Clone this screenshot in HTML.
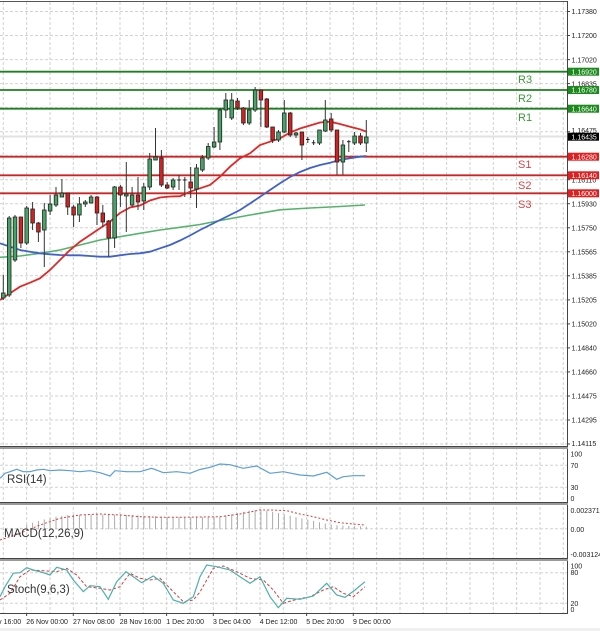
<!DOCTYPE html>
<html><head><meta charset="utf-8"><style>
html,body{margin:0;padding:0;background:#fff;}
svg{display:block;}
text{font-family:"Liberation Sans",sans-serif;}
</style></head><body>
<svg width="600" height="631" viewBox="0 0 600 631" xmlns="http://www.w3.org/2000/svg">
<rect x="0" y="0" width="600" height="631" fill="#fff"/>
<rect x="0" y="628" width="600" height="3" fill="#f0f0f0"/>

<!-- vertical grid -->
<g stroke="#d2d2d2" stroke-width="1" stroke-dasharray="3,2">
<line x1="3.3" y1="2" x2="3.3" y2="613"/><line x1="26.6" y1="2" x2="26.6" y2="613"/><line x1="50" y1="2" x2="50" y2="613"/><line x1="73.3" y1="2" x2="73.3" y2="613"/><line x1="96.6" y1="2" x2="96.6" y2="613"/><line x1="120" y1="2" x2="120" y2="613"/><line x1="143.3" y1="2" x2="143.3" y2="613"/><line x1="166.6" y1="2" x2="166.6" y2="613"/><line x1="190" y1="2" x2="190" y2="613"/><line x1="213.3" y1="2" x2="213.3" y2="613"/><line x1="236.6" y1="2" x2="236.6" y2="613"/><line x1="260" y1="2" x2="260" y2="613"/><line x1="283.3" y1="2" x2="283.3" y2="613"/><line x1="306.6" y1="2" x2="306.6" y2="613"/><line x1="330" y1="2" x2="330" y2="613"/><line x1="353.3" y1="2" x2="353.3" y2="613"/><line x1="376.6" y1="2" x2="376.6" y2="613"/><line x1="400" y1="2" x2="400" y2="613"/><line x1="423.3" y1="2" x2="423.3" y2="613"/><line x1="446.6" y1="2" x2="446.6" y2="613"/><line x1="470" y1="2" x2="470" y2="613"/><line x1="493.3" y1="2" x2="493.3" y2="613"/><line x1="516.6" y1="2" x2="516.6" y2="613"/><line x1="540" y1="2" x2="540" y2="613"/><line x1="563.3" y1="2" x2="563.3" y2="613"/>
</g>
<!-- horizontal grid main -->
<g stroke="#d2d2d2" stroke-width="1" stroke-dasharray="3,2">
<line x1="0" y1="11.5" x2="567" y2="11.5"/><line x1="0" y1="35.5" x2="567" y2="35.5"/><line x1="0" y1="59.6" x2="567" y2="59.6"/><line x1="0" y1="83.6" x2="567" y2="83.6"/><line x1="0" y1="107.6" x2="567" y2="107.6"/><line x1="0" y1="131.7" x2="567" y2="131.7"/><line x1="0" y1="155.7" x2="567" y2="155.7"/><line x1="0" y1="179.7" x2="567" y2="179.7"/><line x1="0" y1="203.7" x2="567" y2="203.7"/><line x1="0" y1="227.8" x2="567" y2="227.8"/><line x1="0" y1="251.8" x2="567" y2="251.8"/><line x1="0" y1="275.8" x2="567" y2="275.8"/><line x1="0" y1="299.9" x2="567" y2="299.9"/><line x1="0" y1="323.9" x2="567" y2="323.9"/><line x1="0" y1="347.9" x2="567" y2="347.9"/><line x1="0" y1="371.9" x2="567" y2="371.9"/><line x1="0" y1="396" x2="567" y2="396"/><line x1="0" y1="420" x2="567" y2="420"/><line x1="0" y1="444" x2="567" y2="444"/>
<!-- sub panels -->
<line x1="0" y1="465.3" x2="567" y2="465.3"/><line x1="0" y1="487.3" x2="567" y2="487.3"/>
<line x1="0" y1="528.8" x2="567" y2="528.8"/>
<line x1="0" y1="572.7" x2="567" y2="572.7"/><line x1="0" y1="603.3" x2="567" y2="603.3"/>
</g>

<!-- current price line -->
<line x1="0" y1="136.5" x2="567" y2="136.5" stroke="#e2e2e2" stroke-width="2"/>

<!-- R/S lines -->
<g stroke-width="1.8">
<line x1="0" y1="71.7" x2="567" y2="71.7" stroke="#1f7f1f"/>
<line x1="0" y1="90" x2="567" y2="90" stroke="#1f7f1f"/>
<line x1="0" y1="108.7" x2="567" y2="108.7" stroke="#1f7f1f"/>
<line x1="0" y1="156.7" x2="567" y2="156.7" stroke="#cf2222"/>
<line x1="0" y1="175.3" x2="567" y2="175.3" stroke="#cf2222"/>
<line x1="0" y1="193.3" x2="567" y2="193.3" stroke="#cf2222"/>
</g>
<g font-size="11">
<text x="518" y="83" fill="#3d963d">R3</text>
<text x="518" y="102" fill="#3d963d">R2</text>
<text x="518" y="121" fill="#3d963d">R1</text>
<text x="518" y="168" fill="#d84444">S1</text>
<text x="518" y="189" fill="#d84444">S2</text>
<text x="518" y="208" fill="#d84444">S3</text>
</g>

<!-- moving averages -->
<polyline fill="none" stroke="#56b36e" stroke-width="1.6" points="0,257.3 20,256 40,253.3 60,250 80,245 100,240 120,236.7 140,233.3 160,230 180,227.3 200,224.5 220,220.5 250,215 280,209.8 310,208 340,206.5 365,205"/>
<polyline fill="none" stroke="#4062c8" stroke-width="1.8" points="0,243.3 10,246.7 20,250 30,251.7 40,253.3 50,254.3 60,255 70,255.3 80,255.3 90,256 100,256.7 110,256.7 120,255.3 130,254 140,253.3 150,251.7 160,248.3 170,245 180,240.5 190,235.5 200,230 210,225 220,220 230,215 240,210 250,203.5 260,196.7 270,190 280,183.3 290,177 300,172 310,168 320,165 330,162.7 340,160 350,158.3 360,156.7 366,156"/>
<polyline fill="none" stroke="#e02828" stroke-width="1.8" points="0,300 10,293.3 20,286.7 30,282.7 40,278.3 50,270 60,260 70,250 80,241.7 90,235 100,228.3 110,221.7 120,213 130,207.5 140,205.5 150,200.5 160,197.5 170,196.5 180,196.2 190,191.7 200,188.3 210,185 220,176.7 230,166.7 240,158.3 250,153.3 260,145 270,141.7 280,138.3 290,132.5 300,128.5 310,125.5 320,122.5 330,121.7 340,124 350,126.7 360,129.3 366,131.5"/>

<!-- candles -->
<g stroke="#333" stroke-width="1">
<line x1="3.3" y1="275" x2="3.3" y2="300"/><line x1="9.2" y1="216" x2="9.2" y2="297"/><line x1="15" y1="215" x2="15" y2="262"/><line x1="20.9" y1="217" x2="20.9" y2="248"/><line x1="26.7" y1="206" x2="26.7" y2="245"/><line x1="32.6" y1="202" x2="32.6" y2="230"/><line x1="38.4" y1="222" x2="38.4" y2="242"/><line x1="44.3" y1="203" x2="44.3" y2="267"/><line x1="50.1" y1="195" x2="50.1" y2="215"/><line x1="56" y1="187" x2="56" y2="207"/><line x1="61.9" y1="179" x2="61.9" y2="197"/><line x1="67.7" y1="193" x2="67.7" y2="215"/><line x1="73.6" y1="205" x2="73.6" y2="227"/><line x1="79.4" y1="197" x2="79.4" y2="222"/><line x1="85.3" y1="200" x2="85.3" y2="207"/><line x1="91.1" y1="195" x2="91.1" y2="203"/><line x1="97" y1="196" x2="97" y2="225"/><line x1="102.8" y1="205" x2="102.8" y2="227"/><line x1="108.7" y1="220" x2="108.7" y2="257"/><line x1="114.6" y1="186" x2="114.6" y2="248"/><line x1="120.4" y1="185" x2="120.4" y2="207"/><line x1="126.3" y1="162" x2="126.3" y2="232"/><line x1="132.1" y1="187" x2="132.1" y2="207"/><line x1="138" y1="177" x2="138" y2="210"/><line x1="143.8" y1="183" x2="143.8" y2="210"/><line x1="149.7" y1="153" x2="149.7" y2="190"/><line x1="155.5" y1="128" x2="155.5" y2="160"/><line x1="161.4" y1="150" x2="161.4" y2="187"/><line x1="167.2" y1="182" x2="167.2" y2="189"/><line x1="173.1" y1="178" x2="173.1" y2="190"/><line x1="179" y1="175" x2="179" y2="190"/><line x1="184.8" y1="177" x2="184.8" y2="197"/><line x1="190.7" y1="167" x2="190.7" y2="198"/><line x1="196.5" y1="164" x2="196.5" y2="208"/><line x1="202.4" y1="155" x2="202.4" y2="172"/><line x1="208.2" y1="143" x2="208.2" y2="160"/><line x1="214.1" y1="127" x2="214.1" y2="148"/><line x1="219.9" y1="108" x2="219.9" y2="150"/><line x1="225.8" y1="93" x2="225.8" y2="118"/><line x1="231.7" y1="93" x2="231.7" y2="120"/><line x1="237.5" y1="98" x2="237.5" y2="110"/><line x1="243.4" y1="107" x2="243.4" y2="125"/><line x1="249.2" y1="100" x2="249.2" y2="125"/><line x1="255.1" y1="87" x2="255.1" y2="112"/><line x1="260.9" y1="90" x2="260.9" y2="127"/><line x1="266.8" y1="98" x2="266.8" y2="128"/><line x1="272.6" y1="127" x2="272.6" y2="143"/><line x1="278.5" y1="130" x2="278.5" y2="142"/><line x1="284.3" y1="100" x2="284.3" y2="133"/><line x1="290.2" y1="112" x2="290.2" y2="137"/><line x1="296" y1="132" x2="296" y2="138"/><line x1="301.9" y1="132" x2="301.9" y2="160"/><line x1="307.8" y1="137" x2="307.8" y2="143"/><line x1="313.6" y1="140" x2="313.6" y2="145"/><line x1="319.5" y1="130" x2="319.5" y2="145"/><line x1="325.3" y1="100" x2="325.3" y2="132"/><line x1="331.2" y1="113" x2="331.2" y2="132"/><line x1="337" y1="130" x2="337" y2="175"/><line x1="342.9" y1="140" x2="342.9" y2="175"/><line x1="348.8" y1="140" x2="348.8" y2="152"/><line x1="354.6" y1="132" x2="354.6" y2="145"/><line x1="360.5" y1="133" x2="360.5" y2="145"/><line x1="366.3" y1="120" x2="366.3" y2="152"/>
</g>
<g stroke="#222" stroke-width="0.8">
<g fill="#46a566">
<rect x="1.5" y="293" width="3.6" height="5"/><rect x="7.4" y="218" width="3.6" height="77"/><rect x="13.2" y="217" width="3.6" height="43"/><rect x="24.9" y="208" width="3.6" height="35"/><rect x="42.5" y="210" width="3.6" height="20"/><rect x="48.3" y="204" width="3.6" height="7"/><rect x="54.2" y="195" width="3.6" height="10"/><rect x="60.1" y="193" width="3.6" height="4"/><rect x="77.6" y="204" width="3.6" height="11"/><rect x="83.5" y="202" width="3.6" height="2"/><rect x="89.3" y="197" width="3.6" height="6"/><rect x="112.8" y="187" width="3.6" height="51"/><rect x="124.5" y="194" width="3.6" height="2"/><rect x="130.3" y="195" width="3.6" height="10"/><rect x="142" y="187" width="3.6" height="14"/><rect x="147.9" y="159" width="3.6" height="28"/><rect x="153.7" y="157" width="3.6" height="3"/><rect x="171.3" y="180" width="3.6" height="7"/><rect x="194.7" y="168" width="3.6" height="21"/><rect x="200.6" y="158" width="3.6" height="12"/><rect x="206.4" y="146.5" width="3.6" height="11.5"/><rect x="212.3" y="142" width="3.6" height="5"/><rect x="218.1" y="110" width="3.6" height="32"/><rect x="224" y="100" width="3.6" height="10"/><rect x="229.9" y="100" width="3.6" height="18"/><rect x="247.4" y="110" width="3.6" height="13"/><rect x="253.3" y="90" width="3.6" height="20"/><rect x="276.7" y="132" width="3.6" height="8"/><rect x="282.5" y="113" width="3.6" height="19"/><rect x="294.2" y="133" width="3.6" height="2"/><rect x="317.7" y="130" width="3.6" height="13"/><rect x="323.5" y="120" width="3.6" height="11"/><rect x="341.1" y="145" width="3.6" height="17"/><rect x="352.8" y="136" width="3.6" height="7"/><rect x="364.5" y="137" width="3.6" height="6"/>
</g>
<g fill="#d42020">
<rect x="19.1" y="217" width="3.6" height="26"/><rect x="30.8" y="209" width="3.6" height="14"/><rect x="36.6" y="223" width="3.6" height="9"/><rect x="65.9" y="193" width="3.6" height="14"/><rect x="71.8" y="207" width="3.6" height="8"/><rect x="95.2" y="197" width="3.6" height="16"/><rect x="101" y="213" width="3.6" height="9"/><rect x="106.9" y="221" width="3.6" height="17"/><rect x="118.6" y="187" width="3.6" height="8"/><rect x="136.2" y="195" width="3.6" height="7"/><rect x="159.6" y="158" width="3.6" height="27"/><rect x="165.4" y="185" width="3.6" height="3"/><rect x="188.9" y="182" width="3.6" height="6"/><rect x="235.7" y="101" width="3.6" height="7"/><rect x="241.6" y="108" width="3.6" height="15"/><rect x="259.1" y="90" width="3.6" height="10"/><rect x="265" y="99" width="3.6" height="28"/><rect x="270.8" y="127" width="3.6" height="13"/><rect x="288.4" y="113" width="3.6" height="22"/><rect x="300.1" y="132" width="3.6" height="13"/><rect x="329.4" y="119" width="3.6" height="11"/><rect x="335.2" y="130" width="3.6" height="32"/><rect x="358.7" y="136" width="3.6" height="7"/>
</g>
</g>
<g stroke="#222" stroke-width="1">
<line x1="177.2" y1="180" x2="180.8" y2="180"/><line x1="183" y1="180" x2="186.6" y2="180"/><line x1="306" y1="139.5" x2="309.6" y2="139.5"/><line x1="311.8" y1="142.8" x2="315.4" y2="142.8"/><line x1="347" y1="141.7" x2="350.6" y2="141.7"/>
</g>

<!-- RSI -->
<polyline fill="none" stroke="#5c9fd2" stroke-width="1.2" points="0,478.3 5,473.3 10,471.7 16.7,469.3 23.3,471.7 30,471.7 36.7,470 43.3,469.3 50,470.7 60,470 70,470.7 80,471.7 90,470.7 100,472.7 110,476 115,470.7 126.7,471.7 140,471.7 151.7,468.3 163.3,472.7 176.7,471.7 190,473.3 200,469.5 210,467.3 220,464 230,464.7 243.3,468.3 256.7,466 270,473.3 283.3,471.7 300,475 313.3,476 326.7,472.3 336.7,479.3 343.3,476.7 353.3,475.7 365,475.7"/>
<text x="7" y="483" font-size="11.5" fill="#333">RSI(14)</text>

<!-- MACD histogram -->
<g stroke="#ababab" stroke-width="1">
<line x1="3.3" y1="529.3" x2="3.3" y2="530"/><line x1="9.2" y1="529.3" x2="9.2" y2="529.2"/><line x1="15" y1="529.3" x2="15" y2="528.6"/><line x1="20.9" y1="529.3" x2="20.9" y2="527.8"/><line x1="26.7" y1="529.3" x2="26.7" y2="525"/><line x1="32.6" y1="529.3" x2="32.6" y2="522.7"/><line x1="38.4" y1="529.3" x2="38.4" y2="520.9"/><line x1="44.3" y1="529.3" x2="44.3" y2="519.4"/><line x1="50.1" y1="529.3" x2="50.1" y2="518"/><line x1="56" y1="529.3" x2="56" y2="516.8"/><line x1="61.9" y1="529.3" x2="61.9" y2="515.9"/><line x1="67.7" y1="529.3" x2="67.7" y2="515"/><line x1="73.6" y1="529.3" x2="73.6" y2="514.9"/><line x1="79.4" y1="529.3" x2="79.4" y2="514.8"/><line x1="85.3" y1="529.3" x2="85.3" y2="514.7"/><line x1="91.1" y1="529.3" x2="91.1" y2="514.6"/><line x1="97" y1="529.3" x2="97" y2="514.5"/><line x1="102.8" y1="529.3" x2="102.8" y2="514.5"/><line x1="108.7" y1="529.3" x2="108.7" y2="514.6"/><line x1="114.6" y1="529.3" x2="114.6" y2="514.7"/><line x1="120.4" y1="529.3" x2="120.4" y2="514.8"/><line x1="126.3" y1="529.3" x2="126.3" y2="514.9"/><line x1="132.1" y1="529.3" x2="132.1" y2="515"/><line x1="138" y1="529.3" x2="138" y2="515.3"/><line x1="143.8" y1="529.3" x2="143.8" y2="515.6"/><line x1="149.7" y1="529.3" x2="149.7" y2="516"/><line x1="155.5" y1="529.3" x2="155.5" y2="516.3"/><line x1="161.4" y1="529.3" x2="161.4" y2="516.7"/><line x1="167.2" y1="529.3" x2="167.2" y2="517"/><line x1="173.1" y1="529.3" x2="173.1" y2="517.1"/><line x1="179" y1="529.3" x2="179" y2="517.1"/><line x1="184.8" y1="529.3" x2="184.8" y2="517.2"/><line x1="190.7" y1="529.3" x2="190.7" y2="517.2"/><line x1="196.5" y1="529.3" x2="196.5" y2="517.3"/><line x1="202.4" y1="529.3" x2="202.4" y2="517.2"/><line x1="208.2" y1="529.3" x2="208.2" y2="517"/><line x1="214.1" y1="529.3" x2="214.1" y2="516.8"/><line x1="219.9" y1="529.3" x2="219.9" y2="516.5"/><line x1="225.8" y1="529.3" x2="225.8" y2="515.4"/><line x1="231.7" y1="529.3" x2="231.7" y2="514.3"/><line x1="237.5" y1="529.3" x2="237.5" y2="513"/><line x1="243.4" y1="529.3" x2="243.4" y2="511.8"/><line x1="249.2" y1="529.3" x2="249.2" y2="510.6"/><line x1="255.1" y1="529.3" x2="255.1" y2="510.2"/><line x1="260.9" y1="529.3" x2="260.9" y2="510.1"/><line x1="266.8" y1="529.3" x2="266.8" y2="510.7"/><line x1="272.6" y1="529.3" x2="272.6" y2="511.8"/><line x1="278.5" y1="529.3" x2="278.5" y2="513"/><line x1="284.3" y1="529.3" x2="284.3" y2="514.3"/><line x1="290.2" y1="529.3" x2="290.2" y2="515.7"/><line x1="296" y1="529.3" x2="296" y2="517.1"/><line x1="301.9" y1="529.3" x2="301.9" y2="518.4"/><line x1="307.8" y1="529.3" x2="307.8" y2="519.6"/><line x1="313.6" y1="529.3" x2="313.6" y2="520.9"/><line x1="319.5" y1="529.3" x2="319.5" y2="522.2"/><line x1="325.3" y1="529.3" x2="325.3" y2="523.5"/><line x1="331.2" y1="529.3" x2="331.2" y2="524.6"/><line x1="337" y1="529.3" x2="337" y2="525.3"/><line x1="342.9" y1="529.3" x2="342.9" y2="525.6"/><line x1="348.8" y1="529.3" x2="348.8" y2="525.9"/><line x1="354.6" y1="529.3" x2="354.6" y2="526.2"/><line x1="360.5" y1="529.3" x2="360.5" y2="526.4"/><line x1="366.3" y1="529.3" x2="366.3" y2="526.7"/>
</g>
<polyline fill="none" stroke="#d04040" stroke-width="1" stroke-dasharray="2,2" points="0,540 20,533.3 40,525 60,518.3 80,515 100,514 120,515 140,516.7 160,517.3 180,517.3 200,517 220,516.7 240,514 260,510 273,510 286.7,510.7 300,514 313.3,516.7 326.7,520 340,522.7 353.3,524 365,525"/>
<text x="4" y="537" font-size="11.5" fill="#333">MACD(12,26,9)</text>

<!-- Stoch -->
<polyline fill="none" stroke="#d04040" stroke-width="1" stroke-dasharray="3,2" points="0,600 10,593.3 20,576.7 30,570 43.3,570.7 56.7,571.7 66.7,568.3 76.7,575 86.7,586.7 100,588.3 110,590 120,586.7 130,573.3 140,578.3 150,580 160,578.3 173.3,591.7 183.3,601.7 193.3,600 200,592 206.7,580 213.3,568.3 223.3,566 236.7,571.7 250,578.3 263.3,580 273.3,590 283.3,603.3 296.7,599.3 310,596.7 323.3,590 333.3,586.7 343.3,593.3 353.3,596.7 365,586.7"/>
<polyline fill="none" stroke="#4db0ad" stroke-width="1.2" points="0,596.7 5,586.7 13.3,573.3 20,572.7 26.7,567.7 33.3,570 43.3,572.7 50,575 56.7,567.3 66.7,570 73.3,580 83.3,591.7 90,585.7 100,586.7 108.3,599.3 116.7,581.7 126,571.7 133.3,576.7 141.7,582.7 153.3,576 163.3,583.3 173.3,600 183.3,603.3 193.3,596.7 200,576.7 206.7,565 216.7,566.7 230,570 240,576.7 250,583.3 260,576.7 270,596.7 278.3,607.7 286.7,598.3 300,599.3 313.3,596 326.7,583.3 336.7,595 345,597.3 355,590 365,581.7"/>
<text x="7" y="593" font-size="11.5" fill="#333">Stoch(9,6,3)</text>

<!-- panel borders -->
<g fill="none">
<line x1="0" y1="1.5" x2="568" y2="1.5" stroke="#555" stroke-width="1"/>
<line x1="567.5" y1="1" x2="567.5" y2="614" stroke="#444" stroke-width="1"/>
<line x1="0" y1="446.5" x2="568" y2="446.5" stroke="#444" stroke-width="1"/>
<line x1="0" y1="448" x2="568" y2="448" stroke="#9a9a9a" stroke-width="2"/>
<line x1="0" y1="502.5" x2="568" y2="502.5" stroke="#444" stroke-width="1"/>
<line x1="0" y1="504" x2="568" y2="504" stroke="#9a9a9a" stroke-width="2"/>
<line x1="0" y1="558.5" x2="568" y2="558.5" stroke="#444" stroke-width="1"/>
<line x1="0" y1="560" x2="568" y2="560" stroke="#9a9a9a" stroke-width="2"/>
<line x1="0" y1="613.5" x2="568" y2="613.5" stroke="#444" stroke-width="1"/>
</g>

<!-- axis ticks -->
<g stroke="#444" stroke-width="1">
<line x1="567" y1="11.5" x2="570" y2="11.5"/><line x1="567" y1="35.5" x2="570" y2="35.5"/><line x1="567" y1="59.6" x2="570" y2="59.6"/><line x1="567" y1="83.6" x2="570" y2="83.6"/><line x1="567" y1="131.7" x2="570" y2="131.7"/><line x1="567" y1="179.7" x2="570" y2="179.7"/><line x1="567" y1="203.7" x2="570" y2="203.7"/><line x1="567" y1="227.8" x2="570" y2="227.8"/><line x1="567" y1="251.8" x2="570" y2="251.8"/><line x1="567" y1="275.8" x2="570" y2="275.8"/><line x1="567" y1="299.9" x2="570" y2="299.9"/><line x1="567" y1="323.9" x2="570" y2="323.9"/><line x1="567" y1="347.9" x2="570" y2="347.9"/><line x1="567" y1="371.9" x2="570" y2="371.9"/><line x1="567" y1="396" x2="570" y2="396"/><line x1="567" y1="420" x2="570" y2="420"/><line x1="567" y1="444" x2="570" y2="444"/>
<line x1="26.6" y1="613" x2="26.6" y2="616"/><line x1="73.3" y1="613" x2="73.3" y2="616"/><line x1="120" y1="613" x2="120" y2="616"/><line x1="166.6" y1="613" x2="166.6" y2="616"/><line x1="213.3" y1="613" x2="213.3" y2="616"/><line x1="260" y1="613" x2="260" y2="616"/><line x1="306.6" y1="613" x2="306.6" y2="616"/><line x1="353.3" y1="613" x2="353.3" y2="616"/>
</g>

<!-- price labels -->
<g font-size="7" fill="#222">
<text x="571.5" y="14">1.17380</text>
<text x="571.5" y="38">1.17200</text>
<text x="571.5" y="62.3">1.17020</text>
<text x="571.5" y="86.3">1.16835</text>
<text x="571.5" y="110.3">1.16655</text>
<text x="571.5" y="133">1.16475</text>
<text x="571.5" y="158.3">1.16290</text>
<text x="571.5" y="182.5">1.16110</text>
<text x="571.5" y="206.5">1.15930</text>
<text x="571.5" y="230.5">1.15750</text>
<text x="571.5" y="254.5">1.15565</text>
<text x="571.5" y="278.5">1.15385</text>
<text x="571.5" y="302.5">1.15205</text>
<text x="571.5" y="326.5">1.15020</text>
<text x="571.5" y="350.5">1.14840</text>
<text x="571.5" y="374.5">1.14660</text>
<text x="571.5" y="398.7">1.14475</text>
<text x="571.5" y="422.7">1.14295</text>
<text x="571.5" y="446">1.14115</text>
<text x="570.5" y="456.5">100</text>
<text x="570.5" y="467.8">70</text>
<text x="570.5" y="489.8">30</text>
<text x="570.5" y="500.8">0</text>
<text x="570.5" y="512.8">0.002371</text>
<text x="570.5" y="531.8">0.00</text>
<text x="570.5" y="556.8">-0.003124</text>
<text x="570.5" y="568.5">100</text>
<text x="570.5" y="575.2">80</text>
<text x="570.5" y="605.8">20</text>
<text x="570.5" y="611.8">0</text>
</g>

<!-- level label boxes -->
<rect x="568" y="67.7" width="31" height="8" fill="#1c8a1c"/>
<rect x="568" y="86" width="31" height="8" fill="#1c8a1c"/>
<rect x="568" y="104.7" width="31" height="8" fill="#1c8a1c"/>
<rect x="568" y="132.7" width="31" height="8" fill="#000"/>
<rect x="568" y="152.7" width="31" height="8" fill="#e02020"/>
<rect x="568" y="171.3" width="31" height="8" fill="#e02020"/>
<rect x="568" y="189.3" width="31" height="8" fill="#e02020"/>
<g font-size="7" fill="#fff">
<text x="571.5" y="74.3">1.16920</text>
<text x="571.5" y="92.6">1.16780</text>
<text x="571.5" y="111.3">1.16640</text>
<text x="571.5" y="139.3">1.16435</text>
<text x="571.5" y="159.3">1.16280</text>
<text x="571.5" y="177.9">1.16140</text>
<text x="571.5" y="195.9">1.16000</text>
</g>

<!-- time labels -->
<g font-size="7" fill="#222">
<text x="-20.5" y="624">25 Nov 16:00</text>
<text x="26.3" y="624">26 Nov 00:00</text>
<text x="73" y="624">27 Nov 08:00</text>
<text x="119.7" y="624">28 Nov 16:00</text>
<text x="166.3" y="624">1 Dec 20:00</text>
<text x="213" y="624">3 Dec 04:00</text>
<text x="259.7" y="624">4 Dec 12:00</text>
<text x="306.3" y="624">5 Dec 20:00</text>
<text x="353" y="624">9 Dec 00:00</text>
</g>
</svg>
</body></html>
